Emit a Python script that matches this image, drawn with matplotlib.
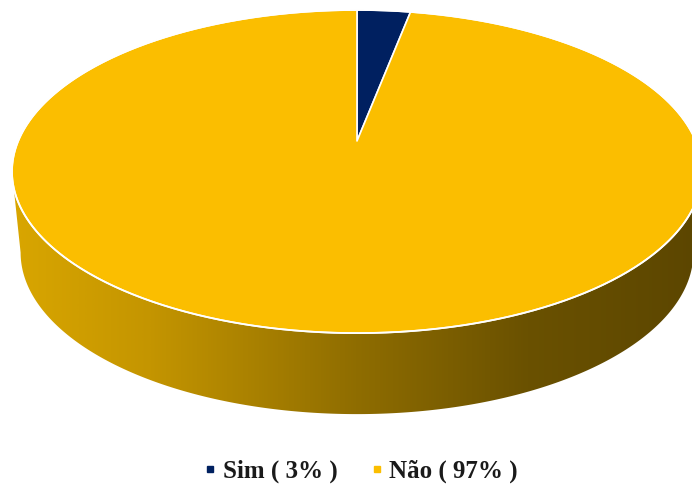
import numpy as np
import matplotlib
matplotlib.use("Agg")
import matplotlib.pyplot as plt
from matplotlib.patches import Polygon
from matplotlib.lines import Line2D
from matplotlib.colors import LinearSegmentedColormap

# ---- data ----
categories = ["Sim", "Não"]
values = [3, 97]
labels = ["Sim ( 3% )", "Não ( 97% )"]
colors = ["#002060", "#FBBE00"]

# ---- geometry (pixel space) ----
W, H = 692, 487
cx, cy = 357.0, 141.0          # projected centre of the top face
A, B, k = 338.8, 155.8, 0.189  # perspective ellipse parameters
depth = 81.0
bscale = 0.975


def top_pt(theta):
    u, v = np.cos(theta), np.sin(theta)
    d = 1 + k * v
    return cx + A * u / d, cy - B * v / d


def bot_pt(theta):
    x, y = top_pt(theta)
    return cx + (x - cx) * bscale, y + depth


fig = plt.figure(figsize=(W / 100, H / 100), dpi=100)
ax = fig.add_axes([0, 0, 1, 1])
ax.set_xlim(0, W)
ax.set_ylim(H, 0)
ax.axis("off")

# ---- side wall ----
thL = np.pi + np.arcsin(k)
thR = 2 * np.pi - np.arcsin(k)
th = np.linspace(thL, thR, 400)
tx, ty = top_pt(th)
bx, by = bot_pt(th[::-1])
side = np.column_stack([np.concatenate([tx, bx]), np.concatenate([ty, by])])
side_poly = Polygon(side, closed=True, facecolor="none", edgecolor="none")
ax.add_patch(side_poly)

stops = [(0.0, (217, 166, 0)), (0.2, (196, 149, 0)), (0.5, (143, 109, 0)),
         (0.75, (106, 81, 0)), (1.0, (92, 70, 0))]
cmap = LinearSegmentedColormap.from_list(
    "side", [(p, tuple(c / 255 for c in col)) for p, col in stops])
x0, x1 = 12, 700
grad = np.linspace(0, 1, 512).reshape(1, -1)
im = ax.imshow(grad, cmap=cmap, aspect="auto", extent=[x0, x1, 430, 150],
               interpolation="bilinear", zorder=1)
im.set_clip_path(side_poly)

# ---- top face slices ----
total = sum(values)
start = np.pi / 2
for val, col in zip(values, colors):
    sweep = 2 * np.pi * val / total
    t = np.linspace(start, start - sweep, max(int(400 * val / total), 20))
    px, py = top_pt(t)
    pts = np.column_stack([np.concatenate([[cx], px]), np.concatenate([[cy], py])])
    ax.add_patch(Polygon(pts, closed=True, facecolor=col, edgecolor="white",
                         linewidth=1.2, joinstyle="round", zorder=3))
    start -= sweep

# rim outline
t = np.linspace(0, 2 * np.pi, 800)
rx, ry = top_pt(t)
ax.plot(rx, ry, color="white", lw=1.3, zorder=4)

# ---- legend ----
handles = [Line2D([], [], marker="s", linestyle="none", markersize=5,
                  markerfacecolor=c, markeredgecolor=c) for c in colors]
leg = fig.legend(handles, labels, loc="center", bbox_to_anchor=(361.5 / W, 1 - 471 / H),
                 ncol=2, frameon=False, handlelength=0.4, handletextpad=0.3,
                 columnspacing=1.38, borderpad=0, borderaxespad=0,
                 prop={"family": "Liberation Serif", "weight": "bold", "size": 18})
for txt in leg.get_texts():
    txt.set_color("#1a1a1a")

fig.savefig("out.png", dpi=100)
